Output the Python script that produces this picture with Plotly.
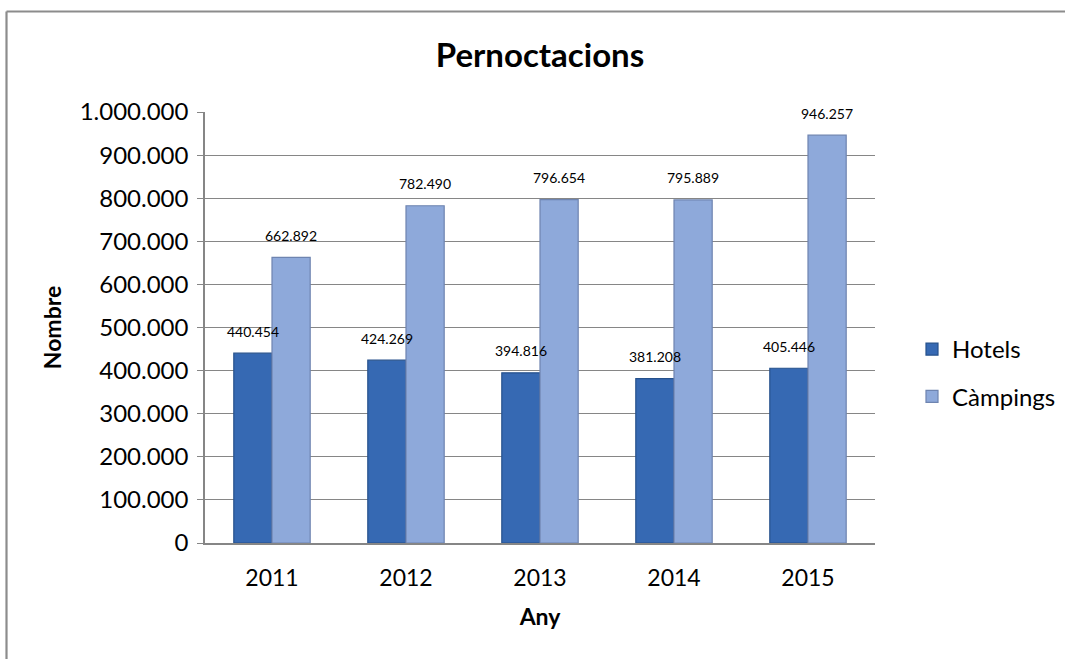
import plotly.graph_objects as go

years = ["2011", "2012", "2013", "2014", "2015"]
hotels = [440454, 424269, 394816, 381208, 405446]
campings = [662892, 782490, 796654, 795889, 946257]

def fmt(v):
    return f"{v:,}".replace(",", ".")

W, H = 1066, 660
ml, mr, mt, mb = 205, 191, 112, 117
pw, ph = W - ml - mr, H - mt - mb
FONT = "Lato, Open Sans, sans-serif"

fig = go.Figure()
fig.add_trace(go.Bar(
    x=years, y=hotels, name="Hotels", legendgroup="h",
    marker=dict(color="#3669B3", line=dict(color="#26518C", width=1.2)),
))
fig.add_trace(go.Bar(
    x=years, y=campings, name="Càmpings", legendgroup="c",
    marker=dict(color="#8EA9DA", line=dict(color="#6E84B0", width=1.2)),
))

label_font = dict(family=FONT, size=14, color="#000")
for i, v in enumerate(hotels):
    fig.add_annotation(x=i, y=v, text=fmt(v), showarrow=False, xshift=-19,
                       yshift=22, font=label_font)
for i, v in enumerate(campings):
    fig.add_annotation(x=i, y=v, text=fmt(v), showarrow=False, xshift=19,
                       yshift=22, font=label_font)

# chart border (top and left edges visible)
bx0 = (6.5 - ml) / pw
by1 = (mt - 11.5) / ph + 1
fig.add_shape(type="line", xref="paper", yref="paper",
              x0=bx0, x1=(W - 1 - ml) / pw, y0=by1, y1=by1,
              line=dict(color="#8c8c8c", width=1.8))
fig.add_shape(type="line", xref="paper", yref="paper",
              x0=bx0, x1=bx0, y0=by1, y1=-(H - 1 - mt - ph) / ph,
              line=dict(color="#8c8c8c", width=2.2))

fig.update_layout(
    width=W, height=H,
    margin=dict(l=ml, r=mr, t=mt, b=mb, autoexpand=False),
    plot_bgcolor="white", paper_bgcolor="white",
    separators=",.",
    font=dict(family=FONT, color="#000"),
    title=dict(text="<b>Pernoctacions</b>", x=540 / W, xref="container", xanchor="center",
               y=1 - 55 / H, yref="container", yanchor="middle",
               font=dict(size=33, family=FONT)),
    barmode="group", bargap=0.43, bargroupgap=0,
    showlegend=True,
    legend=dict(x=(912 - ml) / pw, y=0.5 - (373 - (mt + ph / 2)) / ph, xanchor="left",
                yanchor="middle", font=dict(size=24), traceorder="grouped",
                tracegroupgap=13, bgcolor="rgba(0,0,0,0)"),
    xaxis=dict(type="category",
               title=dict(text="<b>Any</b>", font=dict(size=23), standoff=19),
               tickfont=dict(size=23), showline=True, linecolor="#868686", linewidth=1.5,
               ticks="", ticklabelstandoff=14, showgrid=False, automargin=False),
    yaxis=dict(title=dict(text="<b>Nombre</b>", font=dict(size=23), standoff=12),
               range=[0, 1000000], dtick=100000, tickformat=",d",
               tickfont=dict(size=24), showline=True, linecolor="#868686", linewidth=1.5,
               ticks="outside", ticklen=6, tickcolor="#868686", ticklabelstandoff=4,
               showgrid=True, gridcolor="#868686", gridwidth=1, zeroline=False,
               automargin=False),
)

fig.write_html("out.html", config={"displayModeBar": False},
               post_script="document.body.style.margin='0';"
                           "document.documentElement.style.overflow='hidden';")
